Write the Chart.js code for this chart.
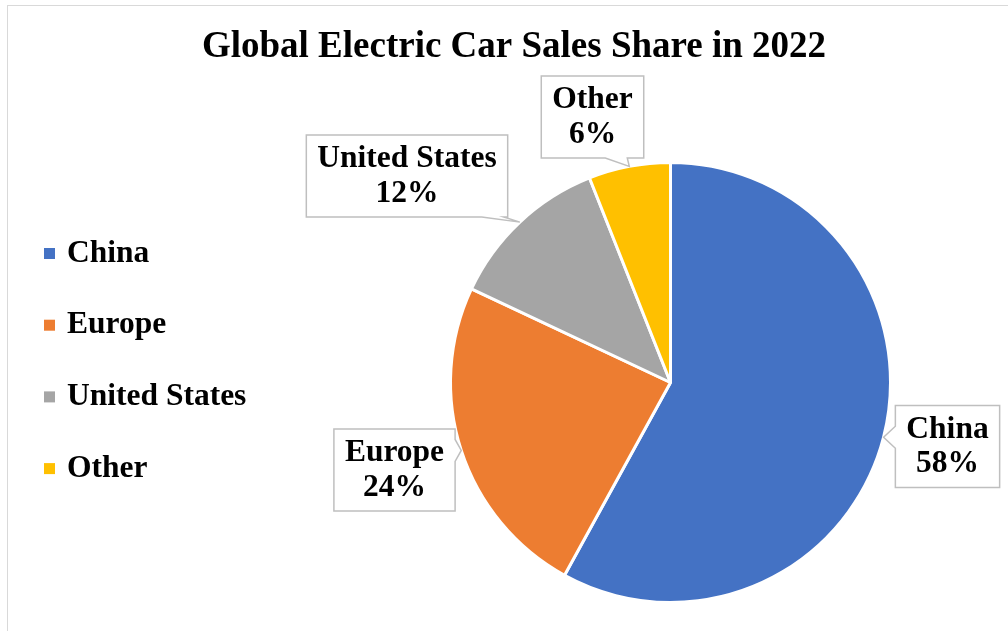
<!DOCTYPE html>
<html>
<head>
<meta charset="utf-8">
<script src="https://cdn.jsdelivr.net/npm/chart.js@4.4.0/dist/chart.umd.min.js"></script>
<style>
  html, body { margin: 0; padding: 0; background: #ffffff; }
  canvas { display: block; }
</style>
</head>
<body>
<canvas id="chart" width="1008" height="631"></canvas>
<script>
// ---- data ----
const chartTitle = 'Global Electric Car Sales Share in 2022';
const categories = ['China', 'Europe', 'United States', 'Other'];
const shares = [58, 24, 12, 6];
const sliceColors = ['#4472C4', '#ED7D31', '#A5A5A5', '#FFC000'];

// ---- layout (positions / styles only) ----
const FONT = '"Liberation Serif", "Times New Roman", serif';
// callout box centre offsets from the pie centre (px)
const calloutOffsets = [[277, 64], [-276, 87.5], [-263.5, -206.5], [-78, -265.5]];

function calloutPath(ctx, x, y, w, h, side, b, tip, bw) {
  ctx.beginPath();
  ctx.moveTo(x, y);
  if (side === 'top') { ctx.lineTo(b - bw / 2, y); ctx.lineTo(tip.x, tip.y); ctx.lineTo(b + bw / 2, y); }
  ctx.lineTo(x + w, y);
  if (side === 'right') { ctx.lineTo(x + w, b - bw / 2); ctx.lineTo(tip.x, tip.y); ctx.lineTo(x + w, b + bw / 2); }
  ctx.lineTo(x + w, y + h);
  if (side === 'bottom') { ctx.lineTo(b + bw / 2, y + h); ctx.lineTo(tip.x, tip.y); ctx.lineTo(b - bw / 2, y + h); }
  ctx.lineTo(x, y + h);
  if (side === 'left') { ctx.lineTo(x, b + bw / 2); ctx.lineTo(tip.x, tip.y); ctx.lineTo(x, b - bw / 2); }
  ctx.closePath();
}

const decorPlugin = {
  id: 'decor',
  beforeDraw(chart) {
    const ctx = chart.ctx;
    ctx.save();
    ctx.fillStyle = '#ffffff';
    ctx.fillRect(0, 0, chart.width, chart.height);
    ctx.strokeStyle = '#d9d9d9';
    ctx.lineWidth = 1;
    ctx.strokeRect(7.5, 5.5, chart.width + 20, chart.height + 20);
    ctx.restore();
  },
  afterDatasetsDraw(chart) {
    const ctx = chart.ctx;
    const meta = chart.getDatasetMeta(0);
    const ds = chart.data.datasets[0];
    ctx.save();
    // callout data labels
    ctx.font = 'bold 31.5px ' + FONT;
    meta.data.forEach((arc, i) => {
      const p = arc.getProps(['x', 'y', 'startAngle', 'endAngle', 'outerRadius'], true);
      const mid = (p.startAngle + p.endAngle) / 2;
      const tip = { x: p.x + Math.cos(mid) * p.outerRadius, y: p.y + Math.sin(mid) * p.outerRadius };
      const l1 = chart.data.labels[i];
      const l2 = ds.data[i] + '%';
      const tw = Math.max(ctx.measureText(l1).width, ctx.measureText(l2).width);
      const w = tw + 22, h = 82;
      const cx = p.x + calloutOffsets[i][0], cy = p.y + calloutOffsets[i][1];
      const x = cx - w / 2, y = cy - h / 2;
      const ov = {
        left: (x - tip.x) / (w / 2), right: (tip.x - (x + w)) / (w / 2),
        top: (y - tip.y) / (h / 2), bottom: (tip.y - (y + h)) / (h / 2)
      };
      let side = 'left';
      for (const k of ['right', 'top', 'bottom']) if (ov[k] > ov[side]) side = k;
      const bw = 22;
      let b;
      if (side === 'left' || side === 'right') b = Math.min(Math.max(tip.y, y + bw / 2 + 4), y + h - bw / 2 - 4);
      else b = Math.min(Math.max(tip.x - bw / 2 - 2, x + bw / 2 + 4), x + w - bw / 2 - 4);
      calloutPath(ctx, x, y, w, h, side, b, tip, bw);
      ctx.fillStyle = '#ffffff';
      ctx.fill();
      ctx.strokeStyle = '#bfbfbf';
      ctx.lineWidth = 1.5;
      ctx.stroke();
      ctx.fillStyle = '#000000';
      ctx.textAlign = 'center';
      ctx.textBaseline = 'middle';
      ctx.fillText(l1, cx, cy - 17);
      ctx.fillText(l2, cx, cy + 17.5);
    });
    ctx.restore();
  },
  afterDraw(chart) {
    const ctx = chart.ctx;
    ctx.save();
    // title
    ctx.fillStyle = '#000000';
    ctx.font = 'bold 37px ' + FONT;
    ctx.textAlign = 'center';
    ctx.textBaseline = 'middle';
    ctx.fillText(chartTitle, 514, 47);
    // legend
    ctx.font = 'bold 31.5px ' + FONT;
    ctx.textAlign = 'left';
    const colors = chart.data.datasets[0].backgroundColor;
    chart.data.labels.forEach((lab, i) => {
      const yc = 253 + i * 71.7;
      ctx.fillStyle = colors[i];
      ctx.fillRect(44, yc - 5, 11, 11);
      ctx.fillStyle = '#000000';
      ctx.fillText(lab, 67, yc + 0.5);
    });
    ctx.restore();
  }
};

new Chart(document.getElementById('chart'), {
  type: 'pie',
  data: {
    labels: categories,
    datasets: [{
      data: shares,
      backgroundColor: sliceColors,
      borderColor: '#ffffff',
      borderWidth: 3,
      hoverBorderWidth: 3,
      hoverOffset: 0
    }]
  },
  options: {
    responsive: false,
    animation: false,
    layout: { padding: { left: 449, right: 116, top: 161, bottom: 27 } },
    plugins: {
      legend: { display: false },
      title: { display: false },
      tooltip: { enabled: false }
    }
  },
  plugins: [decorPlugin]
});
</script>
</body>
</html>
